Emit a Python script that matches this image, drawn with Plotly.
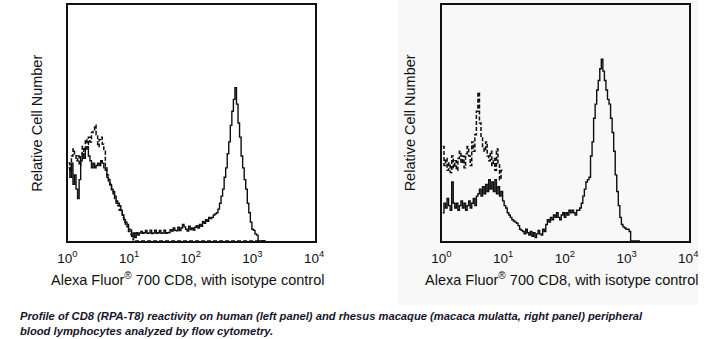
import numpy as np
import plotly.graph_objects as go

# Histogram channels: 0.025-decade bins starting at 10^0
LOG_STEP = 0.025
TICK_VALUES = [1, 10, 100, 1000, 10000]
TICK_LABELS = ["10<sup>0</sup>", "10<sup>1</sup>", "10<sup>2</sup>", "10<sup>3</sup>", "10<sup>4</sup>"]

# Human PBL: CD8 stained (solid) and isotype control (dashed), relative counts
human_cd8 = [
    31, 27, 33, 24, 28, 22, 18, 26, 34, 37, 35, 39, 40, 36, 34, 31,
    33, 31, 32, 33, 32, 34, 33, 31, 30, 27, 26, 24, 22, 21, 19, 17,
    16, 15, 13, 11, 9, 8, 7, 5, 4.7, 2, 3.4, 1.5, 3.5, 2.5, 3.4, 4,
    3.3, 3.5, 4.5, 3.3, 3.4, 4.6, 3.2, 3.4, 4.6, 3.3, 3.5, 4.5, 3.3, 3.4,
    4.6, 3.3, 3.5, 3.6, 4.8, 4.2, 5.5, 4.5, 4.3, 5.8, 4.4, 5.5, 7.0, 6.0,
    5.0, 4.2, 6.3, 4.8, 5.5, 4.6, 5.8, 6.5, 5.5, 7.0, 6.2, 8.3, 7.5, 9.0,
    8.4, 10, 9.5, 10, 11, 11.5, 12, 13.5, 16, 19, 22, 27, 31, 37, 42, 49,
    55, 60, 65, 58, 50, 44, 36, 31, 26, 22, 16, 12, 8, 5, 4.5, 3,
    2.5, 0, 0, 0, 0, 0,
]
human_isotype = [
    33, 30, 36, 39, 37, 34, 36, 32, 36, 40, 38, 43, 41, 44, 42, 46,
    47, 49, 45, 40, 43, 44, 41, 38, 31, 28, 25, 23, 21, 20, 18, 16,
    15, 13, 12, 10, 8, 7, 6, 4, 3, 1.5, 0.5, 0,
]

# Rhesus macaque PBL: CD8 stained (solid) and isotype control (dashed)
rhesus_cd8 = [
    12, 16, 14, 18, 15, 13, 25, 16, 14, 16, 13, 15, 17, 14, 16, 13,
    15, 17, 14, 16, 18, 15, 19, 20, 22, 19, 23, 20, 24, 21, 26, 22,
    25, 21, 26, 20, 23, 19, 21, 17, 15, 14, 12, 11, 10, 9, 8.5, 8,
    7.5, 6.5, 5, 4.5, 4, 3, 5, 3.5, 2.5, 4, 2, 3.5, 1.5, 3, 4.5, 3,
    2.5, 5, 4, 7, 9, 8, 10, 9, 11, 10, 12, 10, 9, 11, 12, 10,
    12, 11, 13, 12, 13, 12, 11, 13, 13, 14, 16, 19, 22, 25, 26, 27,
    36, 42, 52, 58, 64, 68, 73, 77, 72, 68, 64, 60, 58, 52, 46, 38,
    28, 21, 15, 10, 7, 6, 5.5, 5, 5, 4, 0, 0, 0, 0,
]
rhesus_isotype = [
    40, 32, 35, 30, 33, 29, 36, 31, 34, 30, 35, 38, 33, 36, 31, 37,
    40, 36, 32, 42, 38, 45, 55, 63, 50, 44, 40, 38, 42, 36, 34, 38,
    32, 35, 30, 39, 33, 26, 30,
]

CAPTION = ("<b><i>Profile of CD8 (RPA-T8) reactivity on human (left panel) and rhesus macaque "
           "(macaca mulatta, right panel) peripheral<br>blood lymphocytes analyzed by flow cytometry.</i></b>")
X_TITLE = "Alexa Fluor<sup>®</sup> 700 CD8, with isotype control"
Y_TITLE = "Relative Cell Number"

W, H = 707, 339


def channels(counts, n_total=None):
    # step trace over the channels; an extra point closes the last bin
    vals = list(counts)
    if n_total is not None:
        vals += [0] * (n_total - len(vals))
    vals = vals + [vals[-1]]
    x = 10 ** (np.arange(len(vals)) * LOG_STEP)
    return x, vals


def px_x(p):
    return p / W


def px_y(p):
    return 1 - p / H


fig = go.Figure()

# right-hand panel sits on a faint grey card
fig.add_shape(type="rect", xref="paper", yref="paper",
              x0=px_x(398), x1=1.0, y0=px_y(305), y1=1.0,
              fillcolor="#f8f8f8", line_width=0, layer="below")

n = len(human_cd8)
panels = [("x", "y", human_cd8, human_isotype, n), ("x2", "y2", rhesus_cd8, rhesus_isotype, None)]
for xa, ya, solid, dashed, pad in panels:
    xs, ys = channels(dashed, pad)
    fig.add_trace(go.Scatter(x=xs, y=ys, xaxis=xa, yaxis=ya, mode="lines",
                             line=dict(color="#0d0d0d", width=1.5, dash="4px,2px", shape="hv"),
                             hoverinfo="skip", showlegend=False))
    xs, ys = channels(solid, n)
    fig.add_trace(go.Scatter(x=xs, y=ys, xaxis=xa, yaxis=ya, mode="lines",
                             line=dict(color="#0d0d0d", width=1.4, shape="hv"),
                             hoverinfo="skip", showlegend=False))

axis_font = dict(family="Liberation Sans, Arial, sans-serif", size=13.5, color="#111111")
common_x = dict(type="log", range=[0, 4], tickvals=TICK_VALUES, ticktext=TICK_LABELS,
                showgrid=False, zeroline=False, showline=True, linecolor="#111111",
                linewidth=1.6, mirror=True, ticks="", tickfont=axis_font,
                ticklabelshift=-1, ticklabelstandoff=4)
common_y = dict(range=[0, 100], showgrid=False, zeroline=False, showline=True,
                linecolor="#111111", linewidth=1.6, mirror=True, ticks="",
                showticklabels=False)

y_dom = [px_y(241), px_y(5)]
fig.update_layout(
    width=W, height=H, margin=dict(l=0, r=0, t=0, b=0),
    paper_bgcolor="white", plot_bgcolor="rgba(0,0,0,0)",
    xaxis=dict(domain=[px_x(59), px_x(313)], anchor="y", **common_x),
    yaxis=dict(domain=y_dom, anchor="x", **common_y),
    xaxis2=dict(domain=[px_x(444), px_x(698)], anchor="y2", **common_x),
    yaxis2=dict(domain=y_dom, anchor="x2", **common_y),
)

title_font = dict(family="Liberation Sans, Arial, sans-serif", size=14.5, color="#111111")
for cx, ycx in [(182, 26.5), (566.5, 411)]:
    fig.add_annotation(text=X_TITLE, xref="paper", yref="paper", x=px_x(cx), y=px_y(279),
                       xanchor="center", yanchor="middle", showarrow=False, font=title_font)
    fig.add_annotation(text=Y_TITLE, xref="paper", yref="paper", x=px_x(ycx), y=px_y(123),
                       xanchor="center", yanchor="middle", showarrow=False, textangle=-90,
                       font=title_font)

fig.add_annotation(text=CAPTION, xref="paper", yref="paper", x=px_x(7), y=px_y(323),
                   xanchor="left", yanchor="middle", align="left", showarrow=False,
                   font=dict(family="Liberation Sans Narrow, Arial Narrow, Liberation Sans, sans-serif",
                             size=11.2, color="#15152a"))

fig.write_html("out.html")
